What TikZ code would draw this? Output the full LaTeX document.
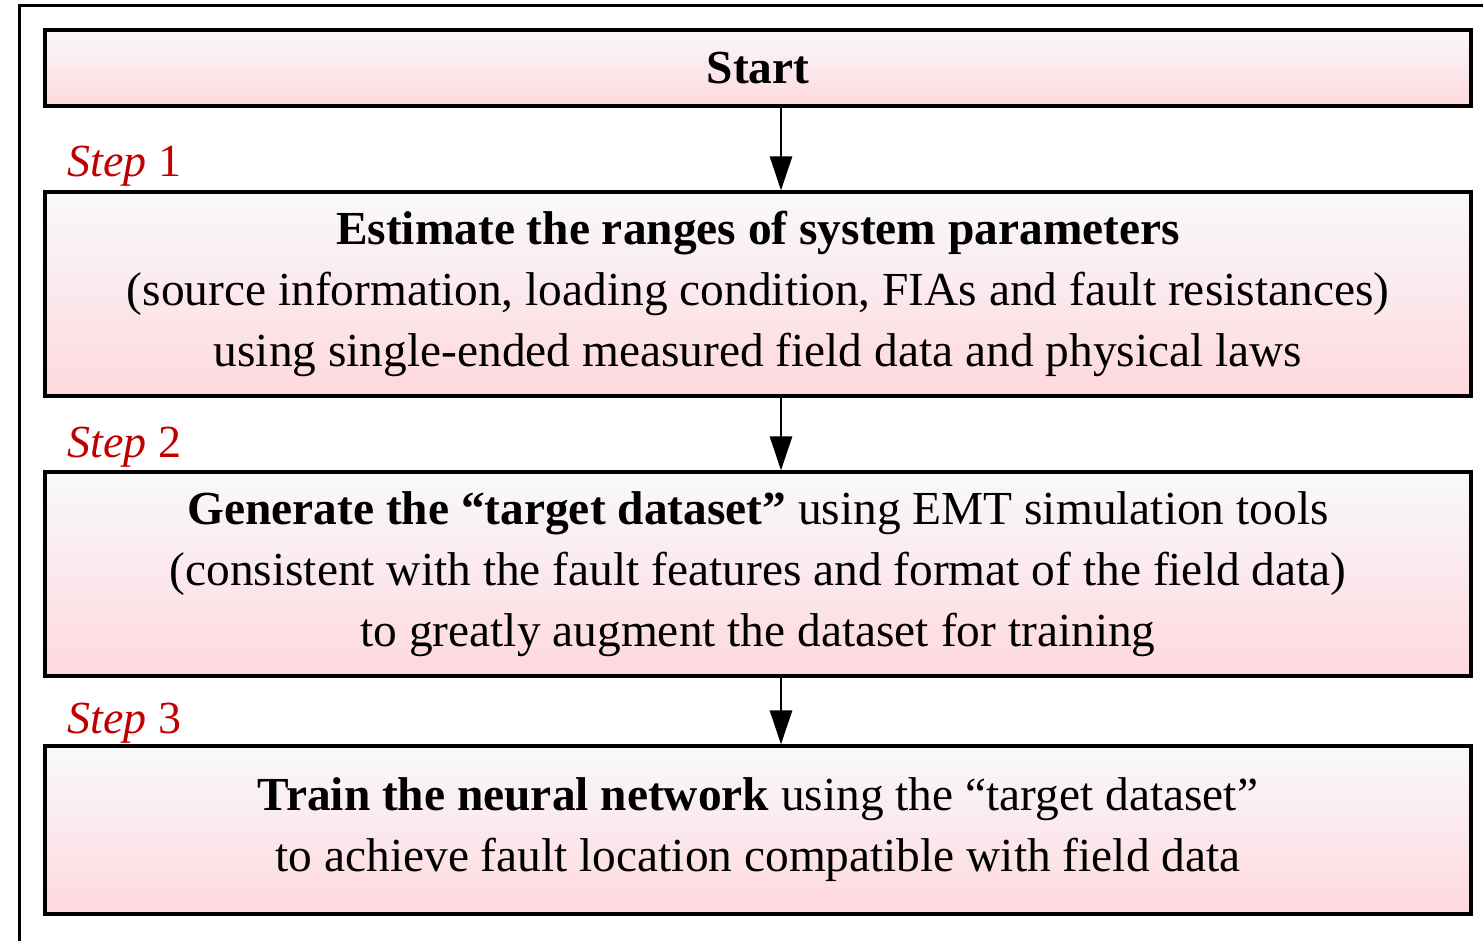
\documentclass[tikz,border=0pt]{standalone}
\usepackage{fontspec}
\setmainfont{Liberation Serif}
\usepackage{xcolor}
\usepackage{tikz}
\usetikzlibrary{arrows.meta, positioning, calc}
\definecolor{flowtop}{RGB}{248,249,252}
\definecolor{flowbot}{RGB}{254,216,221}
\definecolor{flowred}{RGB}{192,0,0}

\tikzset{
  stagebox/.style={draw=black, line width=1.6pt, top color=flowtop, bottom color=flowbot,
    minimum width=713pt, inner sep=0pt, align=center, font=\fontsize{23.7}{30.5}\selectfont},
  steplbl/.style={flowred, font=\fontsize{23}{26}\selectfont, anchor=base west, inner sep=0pt},
  flowarrow/.style={line width=1.4pt, -{Triangle[width=11pt, length=17pt]}}
}

\begin{document}
\begin{tikzpicture}[x=0.5pt, y=-0.5pt]
% page
\useasboundingbox (0,0) rectangle (1483,941);
\fill[white] (0,0) rectangle (1483,941);
\draw[line width=1.5pt] (19,960) -- (19,6) -- (1500,6);

% boxes
\node[stagebox, minimum height=38pt, font=\fontsize{23.7}{30.5}\selectfont\bfseries]
  (start) at (758,68) {Start};
\node[stagebox, minimum height=102pt] (estim) at (758,294)
  {\textbf{Estimate the ranges of system parameters}\\
   (source information, loading condition, FIAs and fault resistances)\\
   using single-ended measured field data and physical laws};
\node[stagebox, minimum height=102pt] (gener) at (758,574)
  {\textbf{Generate the ``target dataset''} using EMT simulation tools\\
   (consistent with the fault features and format of the field data)\\
   to greatly augment the dataset for training};
\node[stagebox, minimum height=84pt] (train) at (758,830)
  {\textbf{Train the neural network} using the ``target dataset''\\
   to achieve fault location compatible with field data};

% step labels
\node[steplbl] (s1) at (67,177) {\textit{Step} 1};
\node[steplbl] (s2) at (67,457) {\textit{Step} 2};
\node[steplbl] (s3) at (67,733) {\textit{Step} 3};

% arrows
\draw[flowarrow] (start.south -| 781,0) -- (estim.north -| 781,0);
\draw[flowarrow] (estim.south -| 781,0) -- (gener.north -| 781,0);
\draw[flowarrow] (gener.south -| 781,0) -- (train.north -| 781,0);
\end{tikzpicture}
\end{document}
